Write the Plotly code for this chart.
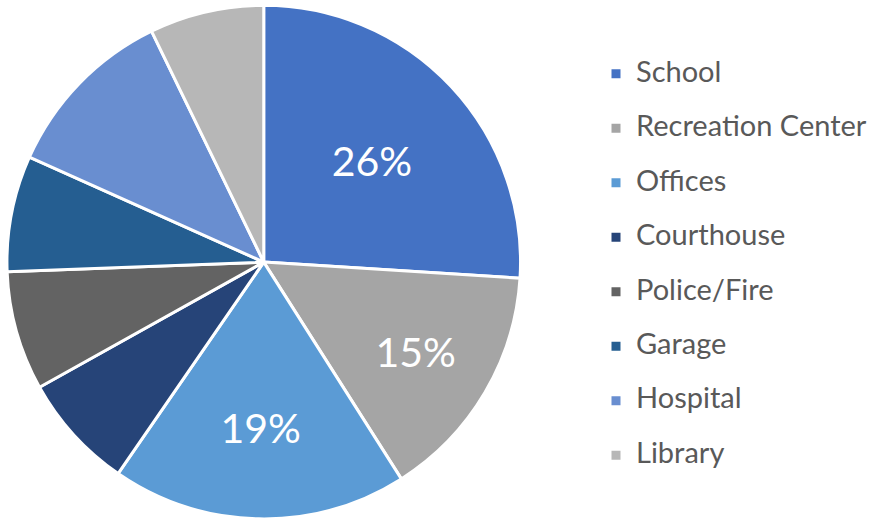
import plotly.graph_objects as go

categories = ["School", "Recreation Center", "Offices", "Courthouse",
              "Police/Fire", "Garage", "Hospital", "Library"]
values = [26, 15, 18.6, 7.3, 7.5, 7.3, 11.1, 7.2]
colors = ["#4472C4", "#A5A5A5", "#5B9BD5", "#264478",
          "#636363", "#255E91", "#698ED0", "#B7B7B7"]
shown = [True, True, True, False, False, False, False, False]

templates = ["%{percent:.0%}" if s else "" for s in shown]
legend_labels = ['<span style="font-size:29px">%s</span><br> ' % c for c in categories]

fig = go.Figure(go.Pie(
    labels=legend_labels,
    values=values,
    sort=False,
    direction="clockwise",
    rotation=0,
    marker=dict(colors=colors, line=dict(color="white", width=3)),
    texttemplate=templates,
    textposition="inside",
    insidetextorientation="horizontal",
    textfont=dict(family="Lato", size=41, color="white"),
    hoverinfo="label+percent",
    domain=dict(x=[0.008, 0.599], y=[0.0, 0.99]),
))

fig.update_layout(
    width=872, height=519,
    margin=dict(l=0, r=0, t=0, b=0),
    paper_bgcolor="white",
    showlegend=True,
    legend=dict(x=0.686, y=0.895, xanchor="left", yanchor="top",
                font=dict(family="Lato", size=19.8, color="#595959"),
                valign="top", itemclick=False),
    uniformtext=dict(minsize=41, mode="show"),
)

fig.write_html("out.html")
